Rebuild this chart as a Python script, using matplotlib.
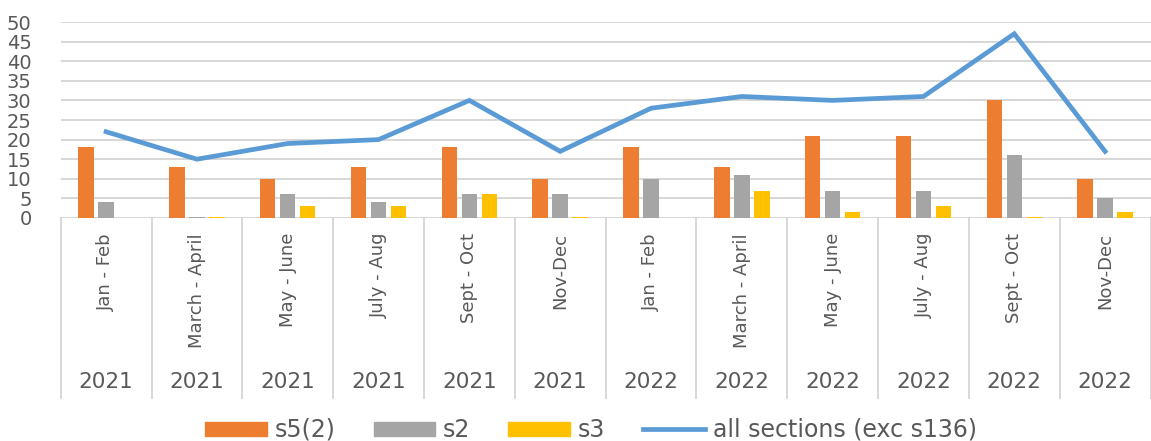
import matplotlib
matplotlib.use("Agg")
import matplotlib.pyplot as plt
from matplotlib.lines import Line2D
from matplotlib.patches import Patch
import numpy as np

periods = ["Jan - Feb", "March - April", "May - June", "July - Aug", "Sept - Oct", "Nov-Dec",
           "Jan - Feb", "March - April", "May - June", "July - Aug", "Sept - Oct", "Nov-Dec"]
years = ["2021"] * 6 + ["2022"] * 6
s5_2 = [18, 13, 10, 13, 18, 10, 18, 13, 21, 21, 30, 10]
s2 = [4, 0.3, 6, 4, 6, 6, 10, 11, 7, 7, 16, 5]
s3 = [0, 0.3, 3, 3, 6, 0.3, 0, 7, 1.5, 3, 0.3, 1.5]
all_sections = [22, 15, 19, 20, 30, 17, 28, 31, 30, 31, 47, 17]
y_ticks = [0, 5, 10, 15, 20, 25, 30, 35, 40, 45, 50]

C_ORANGE = "#ED7D31"
C_GRAY = "#A5A5A5"
C_YELLOW = "#FFC000"
C_BLUE = "#5B9BD5"
TXT = "#595959"
GRID = "#D4D4D4"

W, H = 1151, 441
fig = plt.figure(figsize=(W / 100, H / 100), dpi=100)
left, right = 60.7, 1150.5
top, bottom = 22, 218
ax = fig.add_axes([left / W, 1 - bottom / H, (right - left) / W, (bottom - top) / H])

x = np.arange(len(periods))
bw = 0.17
off = 0.22
ax.bar(x - off, s5_2, bw, color=C_ORANGE, zorder=3)
ax.bar(x, s2, bw, color=C_GRAY, zorder=3)
ax.bar(x + off, s3, bw, color=C_YELLOW, zorder=3)
ax.plot(x, all_sections, color=C_BLUE, lw=3.4, zorder=4, solid_joinstyle="miter")

ax.set_xlim(-0.5, len(periods) - 0.5)
ax.set_ylim(0, 50)
ax.set_yticks(y_ticks)
ax.set_yticklabels([str(v) for v in y_ticks], fontsize=14, color=TXT)
ax.tick_params(axis="y", length=0, pad=21)
ax.set_xticks([])
for v in y_ticks:
    ax.axhline(v, color=GRID, lw=1.3, zorder=1)
for s in ax.spines.values():
    s.set_visible(False)

tr = ax.get_xaxis_transform()
ybot = -(398 - bottom) / (bottom - top)
for k in range(len(periods) + 1):
    ax.add_line(Line2D([k - 0.5, k - 0.5], [0, ybot], transform=tr, color=GRID,
                       lw=1.3, clip_on=False))
ymonth = -(233 - bottom) / (bottom - top)
yyear = -(382 - bottom) / (bottom - top)
for i, (p, yr) in enumerate(zip(periods, years)):
    ax.text(i, ymonth, p, transform=tr, rotation=90, ha="center", va="top",
            fontsize=13, color=TXT)
    ax.text(i, yyear, yr, transform=tr, ha="center", va="center",
            fontsize=15.5, color=TXT)

handles = [Patch(color=C_ORANGE), Patch(color=C_GRAY), Patch(color=C_YELLOW),
           Line2D([], [], color=C_BLUE, lw=3.4)]
labels = ["s5(2)", "s2", "s3", "all sections (exc s136)"]
fig.legend(handles, labels, loc="center", bbox_to_anchor=(591 / W, 1 - 430 / H),
           ncol=4, frameon=False, fontsize=17, labelcolor=TXT,
           handlelength=2.6, handleheight=0.55, handletextpad=0.35, columnspacing=1.6,
           borderpad=0, borderaxespad=0)

fig.savefig("out.png", dpi=100, facecolor="white")
